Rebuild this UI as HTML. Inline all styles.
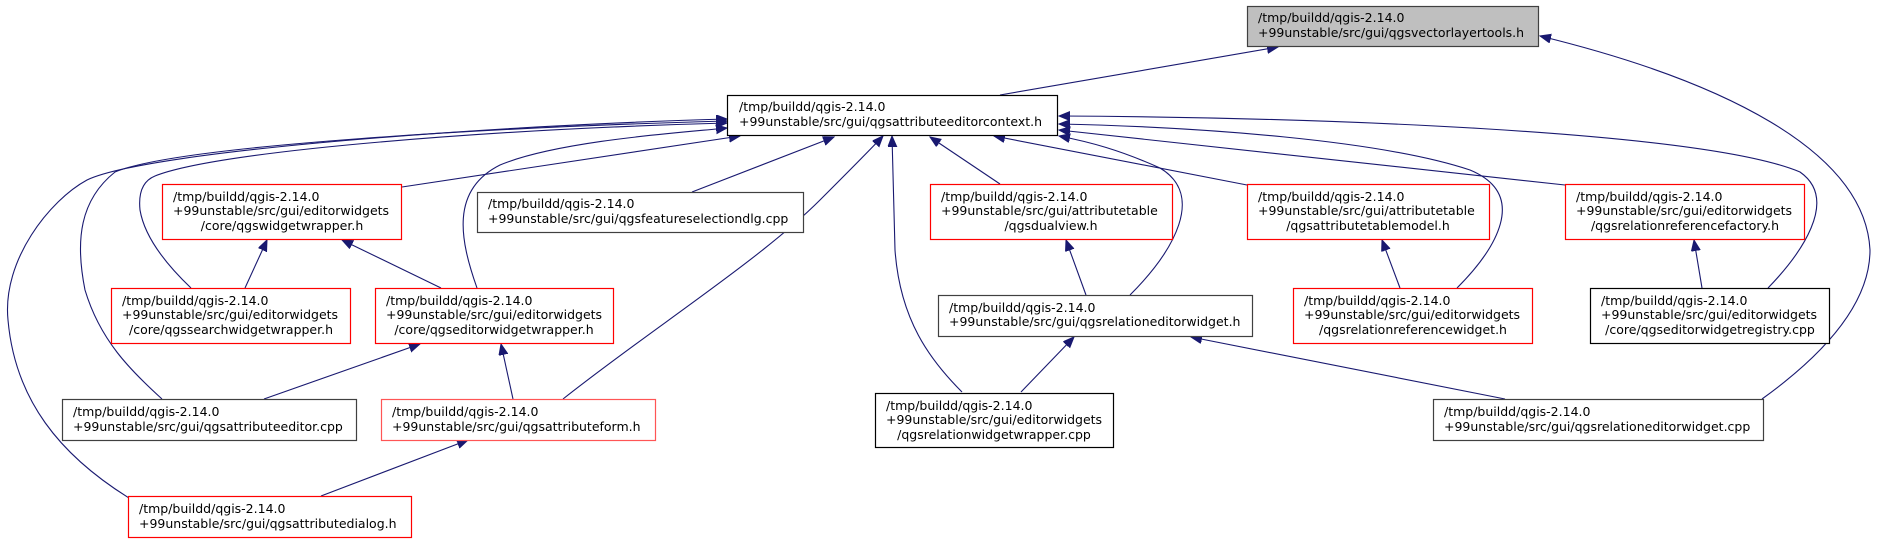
<!DOCTYPE html>
<html><head><meta charset="utf-8"><style>
html,body{margin:0;padding:0;background:#fff;}
svg{display:block;}
text{font-family:"DejaVu Sans","Liberation Sans",sans-serif;font-size:12.5px;fill:#000;}
.e{fill:none;stroke:#191970;stroke-width:1.1;}
</style></head><body>
<svg width="1877" height="543" viewBox="0 0 1877 543" xmlns="http://www.w3.org/2000/svg">
<defs>
<marker id="a" markerUnits="userSpaceOnUse" markerWidth="12" markerHeight="10" refX="11" refY="4.5" orient="auto">
<path d="M0,0 L11,4.5 L0,9 Z" fill="#191970" stroke="#191970"/>
</marker>
</defs>
<path class="e" marker-end="url(#a)" d="M1000,95 L1278,47"/>
<path class="e" marker-end="url(#a)" d="M1762,399 C1830,350 1870,300 1870,250 C1865,150 1720,80 1540,36"/>
<path class="e" marker-end="url(#a)" d="M402,187 L740,136"/>
<path class="e" marker-end="url(#a)" d="M692,192 L834,137"/>
<path class="e" marker-end="url(#a)" d="M1000,184 L930,137"/>
<path class="e" marker-end="url(#a)" d="M1247,185 L994,136"/>
<path class="e" marker-end="url(#a)" d="M1565,185 L1059,130"/>
<path class="e" marker-end="url(#a)" d="M1768,288 C1800,255 1840,200 1800,172 C1700,130 1300,117 1059,116"/>
<path class="e" marker-end="url(#a)" d="M1457,288 C1495,250 1530,195 1470,170 C1380,140 1200,127 1059,124"/>
<path class="e" marker-end="url(#a)" d="M1130,295 C1175,250 1205,195 1160,168 C1120,150 1090,142 1059,136"/>
<path class="e" marker-end="url(#a)" d="M962,392 C930,360 900,320 895,250 L892,136"/>
<path class="e" marker-end="url(#a)" d="M563,399 C650,330 760,260 820,200 C845,175 870,150 883,136"/>
<path class="e" marker-end="url(#a)" d="M477,288 C460,240 450,190 500,165 C560,140 690,132 727,128"/>
<path class="e" marker-end="url(#a)" d="M129,498 C60,455 15,400 8,320 C2,260 50,200 87,180 C150,150 500,125 727,119"/>
<path class="e" marker-end="url(#a)" d="M162,399 C130,370 100,340 85,290 C75,240 80,200 115,172 C180,145 500,127 727,121"/>
<path class="e" marker-end="url(#a)" d="M191,288 C170,268 145,240 140,210 C138,190 145,180 155,176 C220,150 500,129 727,123"/>
<path class="e" marker-end="url(#a)" d="M245,288 L267,240"/>
<path class="e" marker-end="url(#a)" d="M441,288 L342,240"/>
<path class="e" marker-end="url(#a)" d="M264,399 L420,344"/>
<path class="e" marker-end="url(#a)" d="M513,399 L501,344"/>
<path class="e" marker-end="url(#a)" d="M321,496 L468,440"/>
<path class="e" marker-end="url(#a)" d="M1021,392 L1074,337"/>
<path class="e" marker-end="url(#a)" d="M1505,399 L1191,337"/>
<path class="e" marker-end="url(#a)" d="M1086,295 L1066,240"/>
<path class="e" marker-end="url(#a)" d="M1400,288 L1382,240"/>
<path class="e" marker-end="url(#a)" d="M1702,288 L1694,240"/>
<g stroke-width="1.2">
<rect x="1247.5" y="6.5" width="291" height="40" fill="#bfbfbf" stroke="#404040"/>
<rect x="727.5" y="95.5" width="330" height="40" fill="#fff" stroke="#000"/>
<rect x="162.5" y="184.5" width="239" height="55" fill="#fff" stroke="#f00"/>
<rect x="477.5" y="192.5" width="326" height="40" fill="#fff" stroke="#404040"/>
<rect x="930.5" y="184.5" width="242" height="55" fill="#fff" stroke="#f00"/>
<rect x="1247.5" y="184.5" width="242" height="55" fill="#fff" stroke="#f00"/>
<rect x="1565.5" y="184.5" width="239" height="55" fill="#fff" stroke="#f00"/>
<rect x="111.5" y="288.5" width="239" height="55" fill="#fff" stroke="#f00"/>
<rect x="375.5" y="288.5" width="238" height="55" fill="#fff" stroke="#f00"/>
<rect x="938.5" y="295.5" width="314" height="41" fill="#fff" stroke="#404040"/>
<rect x="1293.5" y="288.5" width="239" height="55" fill="#fff" stroke="#f00"/>
<rect x="1590.5" y="288.5" width="239" height="55" fill="#fff" stroke="#000"/>
<rect x="62.5" y="399.5" width="294" height="41" fill="#fff" stroke="#404040"/>
<rect x="381.5" y="399.5" width="274" height="41" fill="#fff" stroke="#f55"/>
<rect x="875.5" y="393.5" width="238" height="54" fill="#fff" stroke="#000"/>
<rect x="1433.5" y="399.5" width="330" height="41" fill="#fff" stroke="#404040"/>
<rect x="128.5" y="496.5" width="283" height="41" fill="#fff" stroke="#f00"/>
</g>
<text x="1258" y="22">/tmp/buildd/qgis-2.14.0</text>
<text x="1258" y="37">+99unstable/src/gui/qgsvectorlayertools.h</text>

<text x="739" y="111">/tmp/buildd/qgis-2.14.0</text>
<text x="739" y="126">+99unstable/src/gui/qgsattributeeditorcontext.h</text>

<text x="173" y="201">/tmp/buildd/qgis-2.14.0</text>
<text x="173" y="215">+99unstable/src/gui/editorwidgets</text>
<text x="282" y="230" text-anchor="middle">/core/qgswidgetwrapper.h</text>

<text x="488" y="208">/tmp/buildd/qgis-2.14.0</text>
<text x="488" y="223">+99unstable/src/gui/qgsfeatureselectiondlg.cpp</text>

<text x="941" y="201">/tmp/buildd/qgis-2.14.0</text>
<text x="941" y="215">+99unstable/src/gui/attributetable</text>
<text x="1051" y="230" text-anchor="middle">/qgsdualview.h</text>

<text x="1258" y="201">/tmp/buildd/qgis-2.14.0</text>
<text x="1258" y="215">+99unstable/src/gui/attributetable</text>
<text x="1368" y="230" text-anchor="middle">/qgsattributetablemodel.h</text>

<text x="1576" y="201">/tmp/buildd/qgis-2.14.0</text>
<text x="1576" y="215">+99unstable/src/gui/editorwidgets</text>
<text x="1685" y="230" text-anchor="middle">/qgsrelationreferencefactory.h</text>

<text x="122" y="305">/tmp/buildd/qgis-2.14.0</text>
<text x="122" y="319">+99unstable/src/gui/editorwidgets</text>
<text x="231" y="334" text-anchor="middle">/core/qgssearchwidgetwrapper.h</text>

<text x="386" y="305">/tmp/buildd/qgis-2.14.0</text>
<text x="386" y="319">+99unstable/src/gui/editorwidgets</text>
<text x="494" y="334" text-anchor="middle">/core/qgseditorwidgetwrapper.h</text>

<text x="949" y="312">/tmp/buildd/qgis-2.14.0</text>
<text x="949" y="326">+99unstable/src/gui/qgsrelationeditorwidget.h</text>

<text x="1304" y="305">/tmp/buildd/qgis-2.14.0</text>
<text x="1304" y="319">+99unstable/src/gui/editorwidgets</text>
<text x="1413" y="334" text-anchor="middle">/qgsrelationreferencewidget.h</text>

<text x="1601" y="305">/tmp/buildd/qgis-2.14.0</text>
<text x="1601" y="319">+99unstable/src/gui/editorwidgets</text>
<text x="1710" y="334" text-anchor="middle">/core/qgseditorwidgetregistry.cpp</text>

<text x="73" y="416">/tmp/buildd/qgis-2.14.0</text>
<text x="73" y="431">+99unstable/src/gui/qgsattributeeditor.cpp</text>

<text x="392" y="416">/tmp/buildd/qgis-2.14.0</text>
<text x="392" y="431">+99unstable/src/gui/qgsattributeform.h</text>

<text x="886" y="410">/tmp/buildd/qgis-2.14.0</text>
<text x="886" y="424">+99unstable/src/gui/editorwidgets</text>
<text x="994" y="439" text-anchor="middle">/qgsrelationwidgetwrapper.cpp</text>

<text x="1444" y="416">/tmp/buildd/qgis-2.14.0</text>
<text x="1444" y="431">+99unstable/src/gui/qgsrelationeditorwidget.cpp</text>

<text x="139" y="513">/tmp/buildd/qgis-2.14.0</text>
<text x="139" y="528">+99unstable/src/gui/qgsattributedialog.h</text>
</svg>
</body></html>
